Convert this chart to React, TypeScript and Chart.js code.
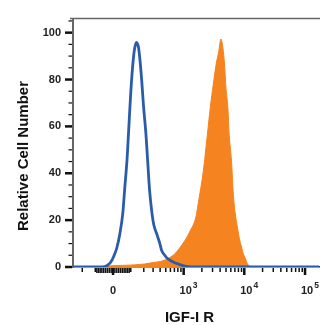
import React, { useEffect, useRef } from 'react';
import { Chart, registerables } from 'chart.js';

Chart.register(...registerables);

// ---- data (x in display decade units of the biexponential axis, y = relative cell number) ----
const isotypeX = [1.18, 1.62, 1.70, 1.75, 1.80, 1.85, 1.90, 1.95, 2.00, 2.03, 2.07, 2.10, 2.13, 2.16, 2.19, 2.225, 2.26, 2.28, 2.31, 2.34, 2.38, 2.41, 2.44, 2.48, 2.51, 2.56, 2.61, 2.64, 2.69, 2.72, 2.77, 2.82, 2.89, 2.93, 3.00, 3.07, 3.13, 5.23];
const isotypeY = [0, 0, 0.2, 0.8, 2, 4.5, 8, 14, 23, 33, 46, 60, 74, 85, 92.5, 95.8, 93.5, 89, 80, 69, 57, 45, 33, 23, 18, 14, 10, 7, 5, 4, 3, 2.2, 1.5, 1.1, 0.5, 0.2, 0, 0];

const igfX = [1.18, 1.54, 1.70, 1.87, 2.11, 2.36, 2.52, 2.64, 2.77, 2.87, 2.98, 3.04, 3.11, 3.20, 3.26, 3.31, 3.34, 3.39, 3.44, 3.49, 3.54, 3.58, 3.615, 3.64, 3.67, 3.70, 3.73, 3.75, 3.79, 3.82, 3.85, 3.89, 3.92, 3.95, 3.98, 4.02, 4.05, 4.08, 4.13, 5.23];
const igfY = [0, 0, 0.3, 0.6, 0.8, 1.3, 2.0, 2.5, 4, 6, 9.7, 12, 15.5, 21, 30, 38, 44, 56, 68, 78, 87, 92, 97.3, 95, 88, 76, 68, 57, 45, 31, 23, 16.5, 12, 9, 6, 3.5, 1.5, 0.5, 0, 0];

// ---- axis ticks ----
const yMajorTicks = [0, 20, 40, 60, 80, 100];
const yMinorTicks = [5, 10, 15, 25, 30, 35, 45, 50, 55, 65, 70, 75, 85, 90, 95, 105];

const xMajorTickValues = [0, 1000, 10000, 100000];
const xTickBases = ['0', '10', '10', '10'];
const xTickExponents = ['', '3', '4', '5'];
const xMinorTickValues = [
  -300, -200, -100, -90, -80, -70, -60, -50, -40, -30, -20, -10,
  10, 20, 30, 40, 50, 60, 70, 80, 90, 100,
  200, 300, 400, 500, 600, 700, 800, 900,
  2000, 3000, 4000, 5000, 6000, 7000, 8000, 9000,
  20000, 30000, 40000, 50000, 60000, 70000, 80000, 90000,
];

const X_MIN = 1.18;
const X_MAX = 5.23;
const Y_MIN = 0;
const Y_MAX = 106;

const BLUE = '#2a5ca8';
const ORANGE = '#f5831f';
const FONT = '"Liberation Sans", Arial, Helvetica, sans-serif';

// biexponential (asinh) display transform used by the axis
const LOGICLE_W = 69;
const toAxis = (v: number) => Math.log10(LOGICLE_W) + Math.asinh(v / (2 * LOGICLE_W)) / Math.LN10;

const axisDecor = {
  id: 'axisDecor',
  afterDraw(chart: any) {
    const { ctx, chartArea, scales } = chart;
    const xs = scales.x;
    const ys = scales.y;
    ctx.save();

    // top frame line
    ctx.strokeStyle = '#666';
    ctx.lineWidth = 1.5;
    ctx.beginPath();
    ctx.moveTo(chartArea.left - 3, chartArea.top);
    ctx.lineTo(chart.width, chartArea.top);
    ctx.stroke();

    ctx.fillStyle = '#111';
    // y ticks
    for (const v of yMajorTicks) {
      const py = ys.getPixelForValue(v);
      ctx.fillRect(chartArea.left - 8, py - 1.25, 7, 2.5);
    }
    for (const v of yMinorTicks) {
      const py = ys.getPixelForValue(v);
      if (py < chartArea.top - 1) continue;
      ctx.fillRect(chartArea.left - 4.5, py - 0.6, 3.5, 1.2);
    }
    // x ticks
    for (const v of xMajorTickValues) {
      const px = xs.getPixelForValue(toAxis(v));
      ctx.fillRect(px - 1.25, chartArea.bottom + 1, 2.5, 7);
    }
    for (const v of xMinorTickValues) {
      const u = toAxis(v);
      if (u < X_MIN || u > X_MAX) continue;
      const px = xs.getPixelForValue(u);
      const len = Math.abs(v) < 100 ? 5 : 4;
      ctx.fillRect(px - 0.75, chartArea.bottom + 1, 1.5, len);
    }

    // x tick labels
    ctx.fillStyle = '#222';
    ctx.textBaseline = 'alphabetic';
    xMajorTickValues.forEach((v, i) => {
      const px = xs.getPixelForValue(toAxis(v));
      const base = xTickBases[i];
      const exp = xTickExponents[i];
      ctx.font = 'bold 11px ' + FONT;
      if (!exp) {
        ctx.textAlign = 'center';
        ctx.fillText(base, px, 294);
      } else {
        const bw = ctx.measureText(base).width;
        const cx = px + 2;
        ctx.textAlign = 'left';
        ctx.fillText(base, cx - bw / 2, 294);
        ctx.font = 'bold 8.5px ' + FONT;
        ctx.fillText(exp, cx + bw / 2 + 1, 287.5);
      }
    });

    // axis titles
    ctx.fillStyle = '#111';
    ctx.font = 'bold 15px ' + FONT;
    ctx.textAlign = 'center';
    ctx.textBaseline = 'middle';
    ctx.fillText('IGF-I R', 189.5, 317.5);
    ctx.translate(24, 156);
    ctx.rotate(-Math.PI / 2);
    ctx.fillText('Relative Cell Number', 0, 0);

    ctx.restore();
  },
};

export default function App() {
  const canvasRef = useRef<HTMLCanvasElement | null>(null);

  useEffect(() => {
    if (!canvasRef.current) return;
    const chart = new Chart(canvasRef.current, {
      type: 'line',
      data: {
        datasets: [
          {
            label: 'Isotype control',
            data: isotypeX.map((x, i) => ({ x, y: isotypeY[i] })),
            borderColor: BLUE,
            borderWidth: 2.8,
            fill: false,
            pointRadius: 0,
            cubicInterpolationMode: 'monotone',
          },
          {
            label: 'IGF-I R',
            data: igfX.map((x, i) => ({ x, y: igfY[i] })),
            borderColor: ORANGE,
            backgroundColor: ORANGE,
            borderWidth: 1,
            fill: 'origin',
            pointRadius: 0,
            cubicInterpolationMode: 'monotone',
          },
        ],
      },
      options: {
        animation: false,
        responsive: false,
        devicePixelRatio: 1,
        layout: { padding: { top: 8, right: 1, left: 0, bottom: 0 } },
        plugins: {
          legend: { display: false },
          tooltip: { enabled: false },
        },
        events: [],
        scales: {
          x: {
            type: 'linear',
            min: X_MIN,
            max: X_MAX,
            ticks: { display: false },
            grid: { display: false, drawTicks: false },
            border: { display: true, color: '#333', width: 1.5 },
            afterFit: (s: any) => {
              s.height = 58;
            },
          },
          y: {
            type: 'linear',
            min: Y_MIN,
            max: Y_MAX,
            ticks: {
              stepSize: 20,
              includeBounds: false,
              padding: 12,
              color: '#222',
              font: { family: FONT, size: 11, weight: 'bold' },
            },
            grid: { display: false, drawTicks: false },
            border: { display: true, color: '#666', width: 2 },
            afterFit: (s: any) => {
              s.width = 73;
            },
          },
        },
      },
      plugins: [axisDecor],
    } as any);
    return () => chart.destroy();
  }, []);

  return (
    <div style={{ position: 'absolute', left: 0, top: 0, width: 320, height: 325, background: '#fff' }}>
      <canvas ref={canvasRef} width={320} height={325} />
    </div>
  );
}
